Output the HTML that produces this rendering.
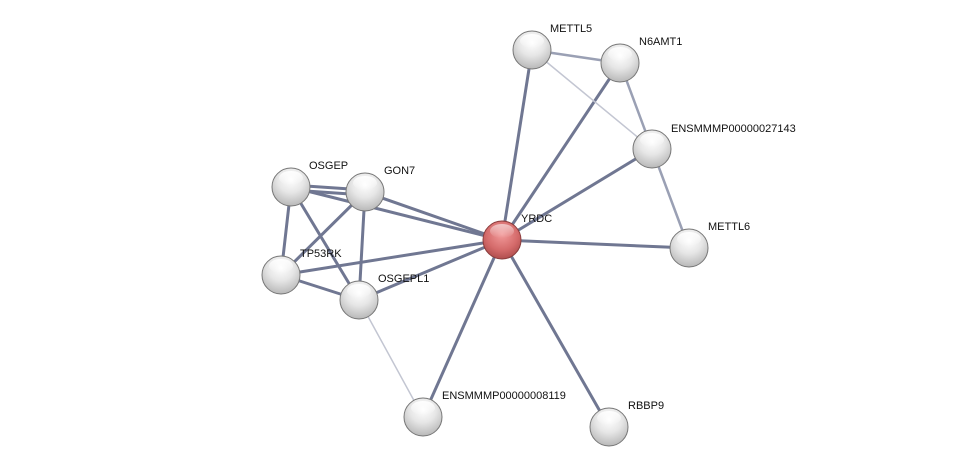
<!DOCTYPE html>
<html><head><meta charset="utf-8"><style>
html,body{margin:0;padding:0;background:#fff;}
svg{display:block;}
text{font-family:"Liberation Sans",sans-serif;font-size:11px;fill:#111;}
</style></head><body>
<svg width="976" height="472" viewBox="0 0 976 472" xmlns="http://www.w3.org/2000/svg">
<defs>
<radialGradient id="g" cx="0.5" cy="0.3" r="0.7">
<stop offset="0" stop-color="#ffffff"/><stop offset="0.5" stop-color="#e6e6e6"/><stop offset="1" stop-color="#b8b8b8"/>
</radialGradient>
<radialGradient id="r" cx="0.5" cy="0.35" r="0.7">
<stop offset="0" stop-color="#f29a9a"/><stop offset="0.6" stop-color="#d46a6a"/><stop offset="1" stop-color="#a84848"/>
</radialGradient>
<linearGradient id="hl" x1="0" y1="0" x2="0" y2="1">
<stop offset="0" stop-color="#fff" stop-opacity="0.95"/><stop offset="1" stop-color="#fff" stop-opacity="0"/>
</linearGradient>
</defs>
<g stroke-linecap="round">
<g stroke="#707792" stroke-width="3">
<line x1="502" y1="240" x2="532" y2="50"/>
<line x1="502" y1="240" x2="620" y2="63"/>
<line x1="502" y1="240" x2="652" y2="149"/>
<line x1="502" y1="240" x2="689" y2="248"/>
<line x1="502" y1="240" x2="609" y2="427"/>
<line x1="502" y1="240" x2="423" y2="417"/>
<line x1="502" y1="240" x2="291" y2="187"/>
<line x1="502" y1="240" x2="365" y2="192"/>
<line x1="502" y1="240" x2="281" y2="275"/>
<line x1="502" y1="240" x2="359" y2="300"/>
<line x1="291" y1="185" x2="365" y2="190"/>
<line x1="291" y1="190" x2="365" y2="195"/>
<line x1="291" y1="187" x2="281" y2="275"/>
<line x1="291" y1="187" x2="359" y2="300"/>
<line x1="365" y1="192" x2="281" y2="275"/>
<line x1="365" y1="192" x2="359" y2="300"/>
<line x1="281" y1="275" x2="359" y2="300"/>
</g>
<g stroke="#9aa0b4" stroke-width="2.5">
<line x1="620" y1="63" x2="652" y2="149"/>
<line x1="652" y1="149" x2="689" y2="248"/>
<line x1="532" y1="50" x2="620" y2="63"/>
</g>
<g stroke="#c3c6d2" stroke-width="1.5">
<line x1="532" y1="50" x2="652" y2="149"/>
<line x1="359" y1="300" x2="423" y2="417"/>
</g>
</g>
<g stroke="#777" stroke-width="1">
<circle cx="532" cy="50" r="19" fill="url(#g)"/>
<circle cx="620" cy="63" r="19" fill="url(#g)"/>
<circle cx="652" cy="149" r="19" fill="url(#g)"/>
<circle cx="689" cy="248" r="19" fill="url(#g)"/>
<circle cx="291" cy="187" r="19" fill="url(#g)"/>
<circle cx="365" cy="192" r="19" fill="url(#g)"/>
<circle cx="281" cy="275" r="19" fill="url(#g)"/>
<circle cx="359" cy="300" r="19" fill="url(#g)"/>
<circle cx="423" cy="417" r="19" fill="url(#g)"/>
<circle cx="609" cy="427" r="19" fill="url(#g)"/>
<circle cx="502" cy="240" r="19" fill="url(#r)" stroke="#8a3c3c"/>
</g>
<g fill="url(#hl)">
<ellipse cx="532" cy="41" rx="12" ry="7"/><ellipse cx="620" cy="54" rx="12" ry="7"/>
<ellipse cx="652" cy="140" rx="12" ry="7"/><ellipse cx="689" cy="239" rx="12" ry="7"/>
<ellipse cx="291" cy="178" rx="12" ry="7"/><ellipse cx="365" cy="183" rx="12" ry="7"/>
<ellipse cx="281" cy="266" rx="12" ry="7"/><ellipse cx="359" cy="291" rx="12" ry="7"/>
<ellipse cx="423" cy="408" rx="12" ry="7"/><ellipse cx="609" cy="418" rx="12" ry="7"/>
<ellipse cx="502" cy="231" rx="12" ry="7" opacity="0.6"/>
</g>
<text x="550" y="32">METTL5</text>
<text x="639" y="45">N6AMT1</text>
<text x="671" y="132">ENSMMMP00000027143</text>
<text x="708" y="230">METTL6</text>
<text x="521" y="222">YRDC</text>
<text x="309" y="169">OSGEP</text>
<text x="384" y="174">GON7</text>
<text x="300" y="257">TP53RK</text>
<text x="378" y="282">OSGEPL1</text>
<text x="442" y="399">ENSMMMP00000008119</text>
<text x="628" y="409">RBBP9</text>
</svg>
</body></html>
